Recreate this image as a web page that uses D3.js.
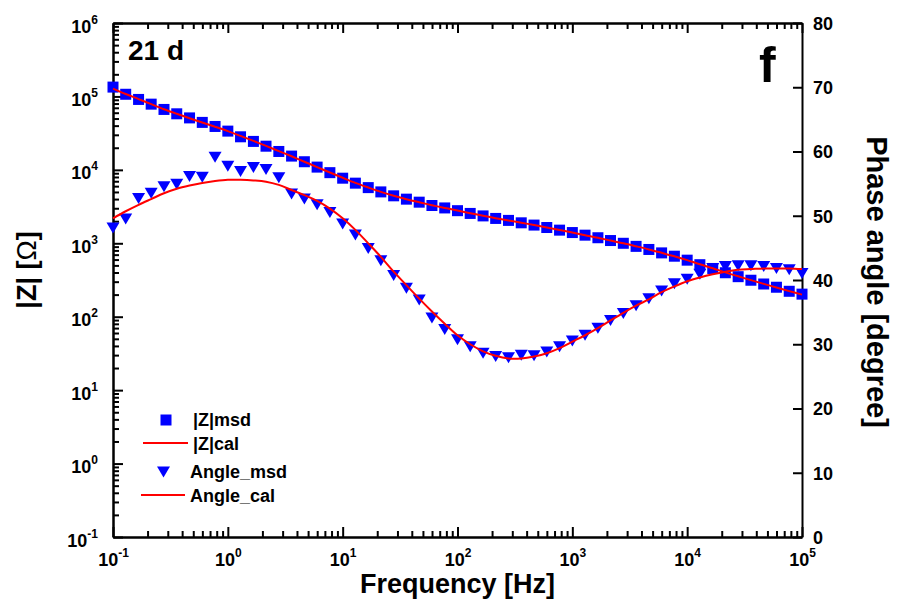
<!DOCTYPE html>
<html>
<head>
<meta charset="utf-8">
<script src="https://cdn.jsdelivr.net/npm/d3@7"></script>
<style>
    body { margin: 0; background: #fff; }
    svg text { font-family: Arial, 'Liberation Sans', sans-serif; font-weight: bold; fill: #000; }
</style>
</head>
<body>
<div id="chart"></div>
<script>
// frequencies of the sweep (Hz), 9 points per decade
const frequencies = [
    0.1, 0.129, 0.167, 0.215, 0.278, 0.359, 0.464, 0.599, 0.774,
    1, 1.29, 1.67, 2.15, 2.78, 3.59, 4.64, 5.99, 7.74,
    10, 12.9, 16.7, 21.5, 27.8, 35.9, 46.4, 59.9, 77.4,
    100, 129, 167, 215, 278, 359, 464, 599, 774,
    1000, 1290, 1670, 2150, 2780, 3590, 4640, 5990, 7740,
    10000, 12900, 16700, 21500, 27800, 35900, 46400, 59900, 77400,
    100000
];

// |Z| in ohm
const zMeasured = [
    1.34e5, 1.07e5, 9.1e4, 7.85e4, 6.65e4, 5.8e4, 5.1e4, 4.43e4, 3.9e4,
    3.37e4, 2.82e4, 2.44e4, 2.1e4, 1.78e4, 1.54e4, 1.29e4, 1.09e4, 9160,
    7700, 6590, 5730, 5010, 4430, 3990, 3630, 3270, 3030,
    2780, 2550, 2360, 2180, 2050, 1900, 1770, 1640, 1510,
    1400, 1290, 1190, 1090, 1000, 908, 824, 740, 667,
    589, 511, 454, 397, 351, 314, 279, 252, 222,
    203
];
const zCalculated = [
    1.28e5, 1.08e5, 9.2e4, 7.85e4, 6.7e4, 5.8e4, 5.05e4, 4.42e4, 3.87e4,
    3.37e4, 2.9e4, 2.48e4, 2.12e4, 1.8e4, 1.53e4, 1.29e4, 1.09e4, 9200,
    7800, 6650, 5750, 5020, 4450, 3990, 3620, 3300, 3030,
    2790, 2570, 2370, 2200, 2050, 1910, 1770, 1640, 1520,
    1400, 1290, 1190, 1090, 1000, 910, 825, 742, 665,
    590, 518, 458, 402, 355, 315, 280, 250, 223,
    200
];

// phase angle in degree
const phaseMeasured = [
    48.1, 49.5, 52.7, 53.5, 54.5, 54.9, 56.1, 56.0, 59.1,
    57.7, 56.9, 57.5, 57.2, 55.9, 53.4, 52.6, 51.7, 50.5,
    48.7, 47.0, 44.9, 43.0, 40.7, 38.7, 36.9, 34.1, 32.3,
    30.7, 29.6, 28.6, 28.1, 27.9, 28.3, 28.2, 28.8, 29.6,
    30.5, 31.4, 32.5, 33.7, 34.8, 36.0, 37.1, 38.3, 39.4,
    40.1, 40.9, 41.8, 42.1, 42.2, 42.2, 42.1, 41.8, 41.6,
    41.0
];
const phaseCalculated = [
    49.6, 50.7, 51.7, 52.6, 53.5, 54.2, 54.7, 55.1, 55.4,
    55.6, 55.6, 55.5, 55.3, 54.8, 54.0, 53.2, 52.3, 51.1,
    49.6, 47.8, 45.7, 43.6, 41.3, 39.2, 37.1, 35.1, 33.2,
    31.4, 30.0, 28.9, 28.2, 27.8, 27.8, 28.1, 28.6, 29.4,
    30.4, 31.4, 32.5, 33.7, 34.9, 36.0, 37.0, 38.1, 39.0,
    39.8, 40.4, 40.9, 41.3, 41.6, 41.7, 41.8, 41.8, 41.8,
    41.7
];

const freqTicks = [1e-1, 1e0, 1e1, 1e2, 1e3, 1e4, 1e5];
const zTicks = [1e-1, 1e0, 1e1, 1e2, 1e3, 1e4, 1e5, 1e6];
const phaseTicks = [0, 10, 20, 30, 40, 50, 60, 70, 80];
const legendLabels = ['|Z|msd', '|Z|cal', 'Angle_msd', 'Angle_cal'];

const width = 898, height = 603;
const margin = {top: 23, right: 96, bottom: 66, left: 113};
const w = width - margin.left - margin.right;
const h = height - margin.top - margin.bottom;
const blue = '#0000ff', red = '#ff0000';

const svg = d3.select('#chart').append('svg')
    .attr('width', width)
    .attr('height', height);

const g = svg.append('g')
    .attr('transform', 'translate(' + [margin.left, margin.top] + ')');

const x = d3.scaleLog().domain([0.1, 1e5]).range([0, w]);
const yZ = d3.scaleLog().domain([0.1, 1e6]).range([h, 0]);
const yP = d3.scaleLinear().domain([0, 80]).range([h, 0]);

const isDecade = d => Math.abs(Math.log10(d) - Math.round(Math.log10(d))) < 1e-6;
const xMinor = x.ticks().filter(d => !isDecade(d));
const zMinor = yZ.ticks().filter(d => !isDecade(d));

// write 10^n with a raised exponent
function powerLabel(text) {
    text.each(function(d) {
        const t = d3.select(this).text('10');
        t.append('tspan')
            .attr('dy', -9)
            .style('font-size', '12px')
            .text(Math.round(Math.log10(d)));
    });
}

function styleAxis(sel) {
    sel.select('.domain').attr('stroke-width', 2);
    sel.selectAll('.tick line').attr('stroke-width', 2);
    sel.selectAll('.tick text').style('font-size', '18px');
}

// minor ticks first, majors on top
g.append('g').attr('transform', 'translate(0,' + h + ')')
    .call(d3.axisBottom(x).tickValues(xMinor).tickSize(-6).tickSizeOuter(0).tickFormat(''))
    .call(styleAxis);
g.append('g')
    .call(d3.axisTop(x).tickValues(xMinor).tickSize(-6).tickSizeOuter(0).tickFormat(''))
    .call(styleAxis);
g.append('g')
    .call(d3.axisLeft(yZ).tickValues(zMinor).tickSize(-6).tickSizeOuter(0).tickFormat(''))
    .call(styleAxis);

const xAxis = g.append('g').attr('transform', 'translate(0,' + h + ')')
    .call(d3.axisBottom(x).tickValues(freqTicks).tickSize(-10).tickSizeOuter(0))
    .call(styleAxis);
xAxis.selectAll('.tick text')
    .attr('y', 29)
    .attr('dy', 0)
    .call(powerLabel);

g.append('g')
    .call(d3.axisTop(x).tickValues(freqTicks).tickSize(-10).tickSizeOuter(0).tickFormat(''))
    .call(styleAxis);

const zAxis = g.append('g')
    .call(d3.axisLeft(yZ).tickValues(zTicks).tickSize(-10).tickSizeOuter(0).tickPadding(15))
    .call(styleAxis);
zAxis.selectAll('.tick text')
    .attr('dy', '0.5em')
    .call(powerLabel);

g.append('g').attr('transform', 'translate(' + w + ',0)')
    .call(d3.axisRight(yP).tickValues(phaseTicks).tickSize(-9).tickSizeOuter(0).tickPadding(11))
    .call(styleAxis)
    .selectAll('.tick text').attr('dy', '0.36em');

// markers
const squareSize = 11;
const trianglePath = 'M-6.5,-5.5L6.5,-5.5L0,5.5Z';

g.append('g').selectAll('rect')
    .data(frequencies)
    .join('rect')
    .attr('x', (d) => x(d) - squareSize / 2)
    .attr('y', (d, i) => yZ(zMeasured[i]) - squareSize / 2)
    .attr('width', squareSize)
    .attr('height', squareSize)
    .attr('fill', blue);

g.append('g').selectAll('path')
    .data(frequencies)
    .join('path')
    .attr('d', trianglePath)
    .attr('transform', (d, i) => 'translate(' + [x(d), yP(phaseMeasured[i])] + ')')
    .attr('fill', blue);

// fitted curves
const zLine = d3.line()
    .x((d) => x(d))
    .y((d, i) => yZ(zCalculated[i]))
    .curve(d3.curveCatmullRom);
const pLine = d3.line()
    .x((d) => x(d))
    .y((d, i) => yP(phaseCalculated[i]))
    .curve(d3.curveCatmullRom);

g.append('path').datum(frequencies)
    .attr('d', zLine)
    .attr('fill', 'none')
    .attr('stroke', red)
    .attr('stroke-width', 2);
g.append('path').datum(frequencies)
    .attr('d', pLine)
    .attr('fill', 'none')
    .attr('stroke', red)
    .attr('stroke-width', 2);

// axis titles
svg.append('text')
    .attr('x', margin.left + w / 2)
    .attr('y', 593)
    .attr('text-anchor', 'middle')
    .style('font-size', '27px')
    .text('Frequency [Hz]');

const zTitle = svg.append('text')
    .attr('transform', 'translate(36,270) rotate(-90)')
    .attr('text-anchor', 'middle')
    .style('font-size', '27px');
zTitle.append('tspan').text('|Z| [');
zTitle.append('tspan').style('font-weight', 'normal').text('Ω');
zTitle.append('tspan').text(']');

svg.append('text')
    .attr('transform', 'translate(867,282) rotate(90)')
    .attr('text-anchor', 'middle')
    .style('font-size', '29px')
    .text('Phase angle [degree]');

// panel labels
svg.append('text')
    .attr('x', 128)
    .attr('y', 60)
    .style('font-size', '28px')
    .text('21 d');
svg.append('text')
    .attr('x', 759)
    .attr('y', 82)
    .style('font-size', '50px')
    .text('f');

// legend
const legend = svg.append('g');
legend.append('rect')
    .attr('x', 160.5).attr('y', 414.5)
    .attr('width', squareSize).attr('height', squareSize)
    .attr('fill', blue);
legend.append('line')
    .attr('x1', 143).attr('x2', 188).attr('y1', 443).attr('y2', 443)
    .attr('stroke', red).attr('stroke-width', 2);
legend.append('path')
    .attr('d', trianglePath)
    .attr('transform', 'translate(163.5,472)')
    .attr('fill', blue);
legend.append('line')
    .attr('x1', 141).attr('x2', 185).attr('y1', 495).attr('y2', 495)
    .attr('stroke', red).attr('stroke-width', 2);

legend.selectAll('text')
    .data(legendLabels)
    .join('text')
    .attr('x', (d, i) => i < 2 ? 193 : 190)
    .attr('y', (d, i) => [426, 450, 478, 502][i])
    .style('font-size', '18px')
    .text((d) => d);
</script>
</body>
</html>
